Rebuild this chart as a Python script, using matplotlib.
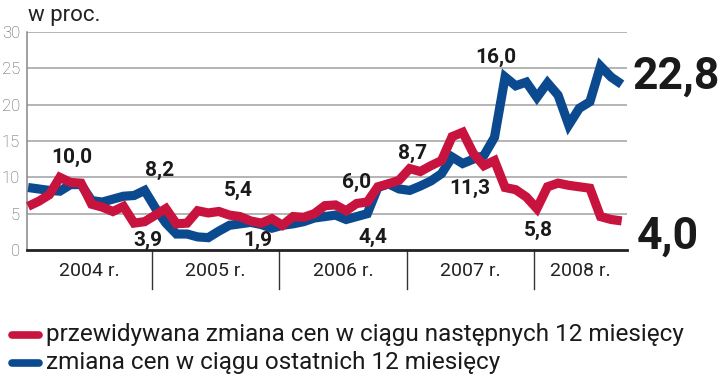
import matplotlib
matplotlib.use('Agg')
import matplotlib.pyplot as plt
from matplotlib.transforms import blended_transform_factory
import pandas as pd

# monthly data, Jan 2004 - Sep 2008
months = pd.date_range('2004-01', '2008-09', freq='MS')
expected = [6.0, 6.7, 7.6, 10.0, 9.3, 9.2, 6.3, 5.9, 5.3, 6.0, 3.7, 3.9,
            4.8, 5.7, 3.6, 3.7, 5.4, 5.1, 5.3, 4.8, 4.6, 4.0, 3.7, 4.3,
            3.4, 4.6, 4.5, 5.0, 6.1, 6.2, 5.4, 6.4, 6.6, 8.7, 9.1, 9.6,
            11.2, 10.8, 11.6, 12.3, 15.6, 16.2, 13.3, 11.6, 12.3, 8.6, 8.3, 7.3,
            5.7, 8.7, 9.2, 8.9, 8.7, 8.5, 4.6, 4.2, 4.0]
actual = [8.6, 8.4, 8.2, 8.1, 9.0, 9.0, 6.8, 6.6, 7.0, 7.4, 7.5, 8.2,
          5.8, 3.7, 2.2, 2.2, 1.8, 1.7, 2.6, 3.4, 3.6, 3.8, 3.5, 3.0,
          3.4, 3.6, 3.9, 4.4, 4.6, 4.8, 4.2, 4.6, 5.0, 8.6, 9.1, 8.4,
          8.2, 8.8, 9.5, 10.5, 12.8, 11.9, 12.5, 13.0, 15.5, 23.8, 22.6, 23.1,
          21.0, 23.0, 21.3, 17.2, 19.5, 20.4, 25.3, 23.8, 22.8]
years = ['2004 r.', '2005 r.', '2006 r.', '2007 r.', '2008 r.']
yticks = [0, 5, 10, 15, 20, 25, 30]
series_names = ['przewidywana zmiana cen w ciągu następnych 12 miesięcy',
                'zmiana cen w ciągu ostatnich 12 miesięcy']

RED = '#c8133f'
BLUE = '#0c4a90'
plt.rcParams['font.family'] = ['Roboto', 'DejaVu Sans']

x = list(range(len(months)))

fig = plt.figure(figsize=(7.2, 3.78), dpi=100)
ax = fig.add_axes([27 / 720, 1 - 250 / 378, 600 / 720, 218 / 378])

ax.plot(x, actual, color=BLUE, lw=6.6, solid_joinstyle='miter', solid_capstyle='butt',
        clip_on=False, zorder=3)
ax.plot(x, expected, color=RED, lw=6.6, solid_joinstyle='miter', solid_capstyle='butt',
        clip_on=False, zorder=4)

ax.set_xlim(-0.1, 56.5)
ax.set_ylim(0, 30)
ax.set_yticks(yticks)
ax.set_yticklabels([str(t) for t in yticks], fontsize=12, color='#555555',
                   fontweight='light')
ax.tick_params(axis='y', length=0, pad=5)
ax.set_xticks([])
for t in yticks[1:]:
    ax.axhline(t, color='#a0a0a0', lw=1.1, zorder=1)
for s in ['top', 'right']:
    ax.spines[s].set_visible(False)
ax.spines['left'].set_color('#888888')
ax.spines['left'].set_linewidth(1.1)
ax.spines['bottom'].set_color('#222222')
ax.spines['bottom'].set_linewidth(2)

# year separators and labels
trans = blended_transform_factory(ax.transData, ax.transAxes)
bounds = [-0.1, 11.7, 23.7, 35.7, 47.7, 56.5]
for b in bounds[1:-1]:
    ax.plot([b, b], [0, -0.18], color='#333333', lw=1, transform=trans, clip_on=False)
for i, yr in enumerate(years):
    ax.text((bounds[i] + bounds[i + 1]) / 2, -0.095, yr, transform=trans,
            ha='center', va='center', fontsize=14, color='#222222')

# value callouts
callouts = [('10,0', 4.15, 12.8), ('8,2', 12.45, 11.0), ('3,9', 11.3, 1.3),
            ('5,4', 19.8, 8.25), ('1,9', 21.7, 1.3), ('6,0', 31.0, 9.35),
            ('4,4', 32.5, 1.7), ('8,7', 36.3, 13.3), ('11,3', 41.7, 8.5),
            ('16,0', 44.1, 26.5), ('5,8', 48.1, 2.7)]
for txt, cx, cy in callouts:
    ax.text(cx, cy, txt, ha='center', va='center', fontsize=15,
            fontweight='bold', color='#1a1a1a', zorder=5)
ax.text(57.0, actual[-1] + 1.0, '22,8', ha='left', va='center', fontsize=32,
        fontweight='bold', color='#1a1a1a', clip_on=False)
ax.text(57.4, 1.8, '4,0', ha='left', va='center', fontsize=32,
        fontweight='bold', color='#1a1a1a', clip_on=False)

fig.text(28 / 720, 1 - 15 / 378, 'w proc.', ha='left', va='center', fontsize=16,
         color='#222222')

# legend
for name, col, py in [(series_names[0], RED, 335), (series_names[1], BLUE, 363)]:
    fig.lines.append(plt.Line2D([11.5 / 720, 38.5 / 720], [1 - py / 378] * 2, color=col,
                                lw=5.5, solid_capstyle='round', transform=fig.transFigure))
    fig.text(46 / 720, 1 - (py - 1) / 378, name, ha='left', va='center',
             fontsize=17.5, color='#1a1a1a')

fig.savefig('out.png', dpi=100)
